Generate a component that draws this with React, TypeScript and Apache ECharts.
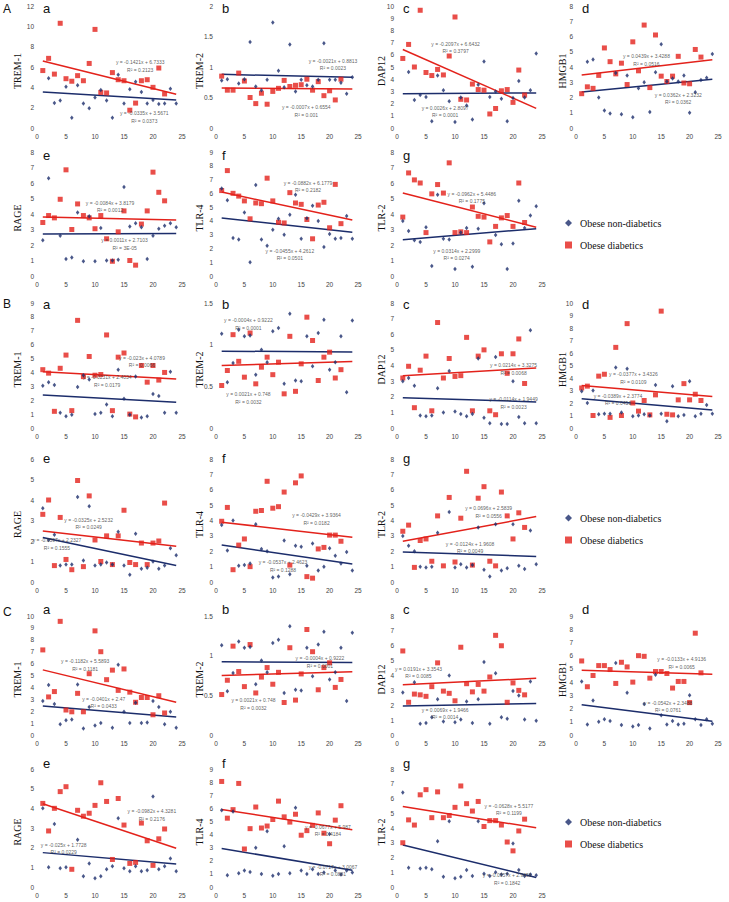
import React, { useEffect, useRef } from 'react';
import * as echarts from 'echarts';

// ---------- data (x = subject index 1..24 for blue, 1..22 for red) ----------
const A_a_blue = [null, 4.9, 2.45, 2.7, 4.05, 1.0, 4.2, 2.4, 1.95, 3.0, 3.75, 2.7, 1.0, 5.25, 2.4, 3.8, 4.55, 3.55, 2.4, 2.75, 2.35, 2.4, 3.85, 2.4];
const A_a_red = [5.65, 6.85, 5.3, 10.3, 4.85, 4.6, 5.15, 4.65, 6.35, 9.7, 3.5, 3.45, 5.45, 4.75, 4.65, 1.75, 2.45, 4.65, 4.75, 4.0, 5.9, 3.35];
const A_b_blue = [0.78, 0.8, null, 0.73, 0.8, 1.41, 0.68, 0.62, 0.79, 1.73, 0.94, 0.67, 1.37, 0.6, 0.79, 0.7, 0.68, 0.79, 1.39, 0.79, 0.79, 0.74, 0.56, 0.83];
const A_b_red = [0.85, 0.62, 0.62, 0.9, 0.77, 0.5, 0.4, 0.57, 0.39, 0.6, 0.65, 0.78, 0.68, 0.7, 0.71, 0.8, 0.62, 0.76, 0.53, 0.61, 0.46, 0.8];
const A_c_blue = [null, 4.6, 2.3, 2.7, 2.55, 0.55, 4.3, 3.1, 2.2, 0.5, 2.5, 1.85, 0.7, 3.55, 5.45, 2.55, 3.0, 2.4, 0.55, 2.45, 3.85, 2.5, 3.1, 6.1];
const A_c_red = [5.7, 6.85, 5.0, 9.65, 4.55, 4.3, 4.8, 4.35, 5.9, 9.1, 2.35, 2.3, 3.6, 3.15, 3.1, 1.15, 1.6, 3.05, 3.15, 2.1, 4.75, 2.7];
const A_d_blue = [null, 4.35, 4.5, 2.0, 1.15, 0.95, 3.6, 0.9, 3.45, 0.7, 2.6, 3.0, 1.05, 3.65, 5.5, 3.05, 3.25, 3.05, 3.45, 1.0, 2.35, 3.15, 3.3, 4.85];
const A_d_red = [2.25, 2.7, 2.6, 3.45, 5.25, 4.35, 3.55, 4.25, 2.85, 5.65, 3.75, 6.75, 2.65, 6.1, 3.4, 3.05, 3.4, 4.7, 2.95, 2.9, 5.15, 4.65];
const A_e_blue = [2.3, 6.3, null, 2.6, 1.1, 1.2, 4.1, 0.95, 3.85, 0.95, 3.1, 1.0, 1.0, 1.05, 5.75, 3.2, 3.4, 3.15, 1.1, 2.6, 3.05, 3.25, 3.4, 3.15];
const A_e_red = [3.45, 3.9, 3.75, 4.95, 6.85, 3.0, 4.65, 3.9, 3.75, 3.05, 3.9, 2.4, 0.95, 2.85, 4.2, 1.0, 0.7, 3.35, 4.2, 6.7, 5.4, 4.85];
const A_f_blue = [6.35, 5.5, 2.75, 2.65, 4.6, 1.0, 6.6, 2.65, 2.2, 3.35, 4.15, 3.0, 4.45, 5.9, 2.7, 4.2, 5.1, 4.0, 2.1, 3.05, 2.7, 2.75, 4.35, 2.7];
const A_f_red = [6.2, 7.65, 6.0, 5.8, 5.45, 4.15, 5.3, 5.25, 7.1, 5.45, 3.9, 3.85, 6.05, 5.3, 5.2, 4.1, 2.7, 5.15, 5.35, 3.5, 6.65, 3.8];
const A_g_blue = [3.55, 2.9, 2.3, 2.2, 3.15, 0.65, 5.25, 2.4, 2.35, 0.45, 2.8, 3.1, 0.6, 3.05, 4.7, null, 2.65, 2.05, 0.45, 2.1, 4.85, 3.1, 3.9, 4.5];
const A_g_red = [3.8, 6.65, 6.2, 6.0, 2.8, 5.3, 5.9, 5.35, 7.3, 2.8, 2.85, 2.8, 4.45, 3.85, 3.8, 2.2, 3.2, 3.75, 3.9, 3.2, 6.0, 3.45];

const B_a_blue = [3.05, 3.3, 3.1, 1.1, 0.85, 0.95, 2.95, 3.8, 3.5, 1.0, 1.1, 1.7, 0.85, 4.2, 2.1, 0.95, 3.7, 0.75, 0.85, 2.45, 2.3, 1.1, 4.05, 1.1];
const B_a_red = [4.2, 3.95, 1.2, 4.3, 5.25, 1.25, 7.75, 3.7, 5.15, 3.8, 3.85, 6.7, 1.25, 5.1, 5.4, 1.0, 0.8, 4.5, 3.3, 4.5, 3.45, 4.0];
const B_b_blue = [1.13, 0.55, 0.78, 1.18, 1.1, 1.11, 0.64, 0.94, 0.79, 1.16, 1.2, 0.53, 1.37, 0.57, 0.56, 1.1, 0.74, 1.14, 1.3, 0.7, 0.79, 1.1, 0.43, 1.29];
const B_b_red = [0.51, 0.69, 1.12, 0.8, 0.61, 1.14, 0.53, 0.73, 0.85, 0.64, 0.79, 0.41, 1.1, 0.44, 0.77, 1.33, 1.05, 0.57, 0.85, 0.91, 0.6, 0.7];
const B_c_blue = [3.0, 3.2, 2.7, 0.8, 0.75, 0.8, 2.55, 1.0, 3.65, 1.05, 0.9, 0.75, 0.9, 4.45, 0.65, 0.3, 4.55, 0.25, 0.25, 3.0, 0.7, 0.3, 6.25, 0.3];
const B_c_red = [3.2, 3.95, 1.3, 3.7, 4.6, 1.1, 6.75, 3.2, 4.45, 3.3, 3.35, 5.8, 1.1, 4.6, 5.0, 1.1, 0.85, 4.75, 3.5, 4.75, 5.7, 2.85];
const B_d_blue = [2.95, 2.0, 3.0, 1.1, 1.15, 1.15, 4.85, 1.25, 4.75, 0.95, 1.0, 1.1, 1.0, 3.45, 1.15, 0.55, 3.35, 0.95, 1.05, 3.75, 0.95, 1.15, 1.85, 1.15];
const B_d_red = [3.2, 3.35, 1.0, 4.15, 4.3, 0.85, 6.45, 1.0, 8.35, 2.0, 1.35, 2.2, 1.05, 2.65, 9.35, 1.1, 1.05, 2.25, 3.55, 2.25, 2.7, 2.2];
const B_e_blue = [3.6, 2.05, 2.3, 0.8, 0.85, 0.85, 4.15, 1.05, 3.7, 0.8, 0.85, 0.95, 0.85, 2.45, 0.8, 0.35, 2.35, 0.65, 0.7, 1.0, 0.65, 0.8, 1.65, 1.3];
const B_e_red = [3.3, 4.0, 0.8, 3.15, 1.1, 0.6, 4.95, 0.75, 4.2, 2.05, 1.0, 2.25, 0.85, 2.25, 3.5, 0.95, 0.85, 1.9, 0.85, 1.9, 2.0, 3.85];
const B_f_blue = [3.7, 2.05, 4.0, 1.05, 1.1, 1.2, 3.75, 2.15, 2.0, 0.3, 0.35, 2.7, 0.5, 2.35, 2.3, 1.05, 2.5, 0.75, 1.0, 2.2, 1.7, 1.2, 1.95, 0.75];
const B_f_red = [3.95, 4.85, 0.8, 2.4, 2.8, 1.0, 4.6, 4.65, 6.55, 4.8, 4.9, 5.85, 1.1, 6.45, 6.9, 0.35, 0.25, 2.15, 2.25, 3.05, 3.05, 2.65];
const B_g_blue = [3.0, 2.35, 2.0, 1.0, 0.95, 1.0, 3.2, null, 4.55, 0.95, 1.15, 0.95, 1.1, 3.55, 0.8, 0.35, 3.75, 0.75, 0.9, 3.75, 1.05, 0.85, 3.35, 1.15];
const B_g_red = [3.3, 3.7, 0.95, 2.7, 2.8, 1.35, 4.3, 1.05, 5.5, 1.3, 4.15, 7.2, 1.1, 5.45, 6.2, 1.35, 1.05, 5.85, 4.3, 2.8, 4.5, 3.55];

const C_a_blue = [2.85, 4.2, 2.6, 0.9, 1.25, 1.3, 4.25, 0.55, 2.35, 0.8, 1.0, null, 0.6, 5.9, 1.95, 1.0, 2.7, 1.0, 1.05, 2.85, 2.35, 0.9, 1.95, 0.6];
const C_a_red = [7.15, 3.2, 3.65, 9.55, 2.1, 1.95, 3.5, 1.95, 5.15, 8.75, 7.0, 4.65, 5.45, 3.75, 5.55, 3.6, 2.75, 3.15, 3.15, 1.7, 3.3, 1.85];
const C_b_blue = [1.13, 0.55, 0.78, 1.18, 1.1, 1.11, 0.64, 0.94, 0.79, 1.16, 1.2, 0.53, 1.37, 0.57, 0.56, 1.1, 0.74, 1.14, 1.3, 0.7, 0.79, 1.1, 0.43, 1.29];
const C_b_red = [0.51, 0.69, 1.12, 0.8, 0.61, 1.14, 0.53, 0.73, 0.85, 0.64, 0.79, 0.41, 1.1, 0.44, 0.77, 1.33, 1.05, 0.57, 0.85, 0.91, 0.6, 0.7];
const C_c_blue = [2.85, null, 3.55, 0.75, 0.8, 1.2, 2.4, 0.9, 4.0, 0.85, 1.05, 2.25, 0.8, 2.4, 4.9, 0.75, 4.15, 1.2, 1.1, 2.95, 2.65, 1.05, 3.6, 0.95];
const C_c_red = [5.65, 2.2, 2.75, 2.7, 2.6, 3.25, 4.85, 2.95, 2.8, 2.3, 5.9, 3.45, 2.9, 3.4, 2.95, 3.9, 6.7, 6.0, 2.2, 3.5, 3.0, 2.7];
const C_d_blue = [4.05, 0.8, 2.6, 1.0, 1.2, 1.05, 5.45, 0.75, 3.2, 0.65, 0.75, 2.35, 0.5, 4.55, 1.5, 0.8, 1.05, 0.8, 0.85, 3.0, 1.2, 0.75, 1.2, 0.85];
const C_d_red = [5.6, 3.65, 4.5, 5.25, 5.25, 4.95, 3.9, 5.5, 5.15, 4.0, 6.0, 5.95, 4.3, 4.8, 4.8, 4.65, 3.55, 4.05, 4.05, 2.45, 7.7, 4.7];
const C_e_blue = [4.0, 1.0, 3.2, 0.95, 1.0, null, 2.4, 0.55, 1.2, 0.45, 0.55, 0.9, 1.05, 3.5, 0.95, 0.8, 1.05, 0.8, 0.85, 4.6, 0.9, 1.05, 1.45, 0.8];
const C_e_red = [4.25, 2.85, 4.0, 4.85, 5.1, 0.9, 3.9, 3.6, 3.75, 4.15, 5.3, 4.35, 1.4, 4.5, 3.15, 1.2, 1.25, 3.25, 2.35, 1.1, 2.45, 2.95];
const C_f_blue = [5.85, 0.9, 5.75, 1.05, 1.25, 1.15, 3.0, 1.0, 4.25, 0.85, 1.0, 3.1, 1.05, 6.05, 1.25, 1.0, 1.35, 1.0, 1.1, 4.05, 1.25, 0.95, 1.25, 1.1];
const C_f_red = [8.05, 5.25, 5.9, 7.9, 2.9, 4.45, 6.1, 4.5, 4.65, 5.15, 6.55, 5.35, 4.95, 5.55, 3.95, 4.3, 4.7, 5.65, 4.1, 3.3, 5.1, 6.2];
const C_g_blue = [6.4, 1.3, null, 1.25, 1.3, 1.2, 3.1, 0.7, 4.45, 0.6, 0.7, 1.15, 0.75, 4.45, 0.9, 0.75, 1.0, 0.85, 0.9, 2.95, 1.15, 0.75, 0.85, 0.8];
const C_g_red = [3.0, 4.55, 4.2, 6.25, 6.6, 4.7, 6.45, 4.7, 4.85, 5.4, 6.85, 5.65, 5.15, 5.8, 4.1, 4.5, 4.5, 4.2, 3.05, 2.45, 3.8, 4.6];

const blueSets = [A_a_blue, A_b_blue, A_c_blue, A_d_blue, A_e_blue, A_f_blue, A_g_blue,
  B_a_blue, B_b_blue, B_c_blue, B_d_blue, B_e_blue, B_f_blue, B_g_blue,
  C_a_blue, C_b_blue, C_c_blue, C_d_blue, C_e_blue, C_f_blue, C_g_blue];
const redSets = [A_a_red, A_b_red, A_c_red, A_d_red, A_e_red, A_f_red, A_g_red,
  B_a_red, B_b_red, B_c_red, B_d_red, B_e_red, B_f_red, B_g_red,
  C_a_red, C_b_red, C_c_red, C_d_red, C_e_red, C_f_red, C_g_red];

const markers = ['TREM-1', 'TREM-2', 'DAP12', 'HMGB1', 'RAGE', 'TLR-4', 'TLR-2'];
const panelLetters = ['a', 'b', 'c', 'd', 'e', 'f', 'g'];
const sectionLetters = ['A', 'B', 'C'];
const yMax = [12, 2, 10, 8, 8, 9, 8, 9, 1.5, 8, 10, 6, 8, 8, 10, 1.5, 8, 9, 6, 9, 8];
const yStep = [2, 0.5, 1, 1, 1, 1, 1, 1, 0.5, 1, 1, 1, 1, 1, 1, 0.5, 1, 1, 1, 1, 1];

// fitted trend lines (from the equations shown)
const redSlope = [-0.1421, -0.0007, -0.2097, 0.0439, -0.0084, -0.0882, -0.0962, -0.023, 0.0021, 0.0214, -0.0377, -0.0325, -0.0429, 0.0696, -0.1182, 0.0021, 0.0191, -0.0133, -0.0982, -0.0677, -0.0628];
const redIntercept = [6.7333, 0.6554, 6.6432, 3.4288, 3.8179, 6.1779, 5.4486, 4.0789, 0.748, 3.3275, 3.4326, 2.5232, 3.9364, 2.5839, 5.5893, 0.748, 3.3543, 4.9136, 4.3281, 5.987, 5.5177];
const redR2 = ['0.2123', '0.001', '0.3797', '0.0516', '0.0012', '0.2182', '0.1775', '0.0066', '0.0032', '0.0068', '0.0109', '0.0249', '0.0182', '0.0556', '0.1181', '0.0032', '0.0085', '0.0065', '0.2176', '0.4184', '0.1199'];
const blueSlope = [-0.0335, -0.0021, 0.0026, 0.0362, 0.0011, -0.0455, 0.0314, -0.0231, -0.0004, -0.0114, -0.0389, -0.0597, -0.0537, -0.0124, -0.0401, -0.0004, 0.0069, -0.0542, -0.025, -0.0717, -0.0957];
const blueIntercept = [3.5671, 0.8813, 2.8097, 2.3232, 2.7103, 4.2612, 2.2999, 2.4034, 0.9222, 1.9449, 2.3774, 2.2327, 2.4623, 1.9608, 2.47, 0.9222, 1.9466, 2.3488, 1.7728, 3.0067, 2.9458];
const blueR2 = ['0.0373', '0.0023', '0.0001', '0.0362', '3E-05', '0.0501', '0.0274', '0.0179', '0.0001', '0.0023', '0.0451', '0.1555', '0.1288', '0.0049', '0.0433', '0.0001', '0.0014', '0.0761', '0.0229', '0.0881', '0.1842'];

// ---------- layout ----------
const redEqPos = [[17.8, 6.1], [15.9, 0.28], [10.1, 6.6], [12.4, 4.45], [12.6, 4.5], [16.2, 6.5], [12.9, 5.05],
  [18.1, 4.8], [5.7, 0.36], [20.1, 3.78], [10.1, 4.0], [8.9, 2.85], [17.7, 4.1], [15.8, 4.55],
  [8.3, 5.9], [6.6, 0.39], [3.7, 4.2], [18.6, 5.45], [19.8, 3.65], [19.7, 4.3], [19.3, 5.25]];
const blueEqPos = [[18.5, 1.1], [20.6, 1.04], [8.3, 1.35], [18, 1.95], [15.1, 2.05], [13, 1.55], [10.3, 1.4],
  [12.1, 3.4], [5.7, 1.25], [20.1, 1.6], [7.4, 2.3], [3.45, 1.85], [11.8, 1.05], [12.6, 2.25],
  [11.5, 2.75], [18.3, 0.92], [8.3, 1.45], [16.2, 2.15], [4.6, 1.95], [20.6, 1.25], [19, 0.55]];
const colLeft = [37, 216, 397, 576];
const colWidth = [145, 142, 145, 142];
const colNameOffset = [20, 17, 16, 14];
const rowTop = [6, 152, 303, 459, 616, 769];
const rowHeight = [122, 124, 125, 123, 119, 118];
const letterBase = [12, 159, 308, 462, 613, 767];
const sectionY = [8.5, 303.5, 611.5];
const legendTop = [213, 508, 812];

const BLUE = '#1c2d6b';
const RED = '#e3221b';
const SANS = '"Liberation Sans", Arial, sans-serif';
const SERIF = '"Liberation Serif", "Times New Roman", serif';

const fmtEq = (s: number, b: number) => `y = ${s}x + ${b}`;

function buildOption() {
  const grid: any[] = [];
  const xAxis: any[] = [];
  const yAxis: any[] = [];
  const series: any[] = [];
  const graphic: any[] = [];
  for (let p = 0; p < 21; p++) {
    const s = Math.floor(p / 7);
    const k = p % 7;
    const row = s * 2 + (k < 4 ? 0 : 1);
    const col = k < 4 ? k : k - 4;
    grid.push({ left: colLeft[col], top: rowTop[row], width: colWidth[col], height: rowHeight[row] });
    xAxis.push({
      gridIndex: p, type: 'value', min: 0, max: 25, interval: 5,
      axisLine: { show: false }, axisTick: { show: false }, splitLine: { show: false },
      axisLabel: { fontSize: 6.5, color: '#444', margin: 5, fontFamily: SANS },
    });
    yAxis.push({
      gridIndex: p, type: 'value', min: 0, max: yMax[p], interval: yStep[p],
      axisLine: { show: false }, axisTick: { show: false }, splitLine: { show: false },
      axisLabel: { fontSize: 6.5, color: '#444', margin: 3, fontFamily: SANS },
    });
    const blue = blueSets[p].map((v, i) => [i + 1, v]).filter((d) => d[1] != null);
    const red = redSets[p].map((v, i) => [i + 1, v]).filter((d) => d[1] != null);
    series.push({
      type: 'line', name: 'trend-blue', xAxisIndex: p, yAxisIndex: p, symbol: 'none', silent: true,
      data: [[1, blueSlope[p] * 1 + blueIntercept[p]], [24, blueSlope[p] * 24 + blueIntercept[p]]],
      lineStyle: { color: BLUE, width: 1.5 }, z: 2,
    });
    series.push({
      type: 'line', name: 'trend-red', xAxisIndex: p, yAxisIndex: p, symbol: 'none', silent: true,
      data: [[1, redSlope[p] * 1 + redIntercept[p]], [24, redSlope[p] * 24 + redIntercept[p]]],
      lineStyle: { color: RED, width: 1.5 }, z: 2,
    });
    series.push({
      type: 'scatter', name: 'Obese non-diabetics', xAxisIndex: p, yAxisIndex: p,
      symbol: 'diamond', symbolSize: [3.5, 4.5], itemStyle: { color: BLUE }, data: blue, z: 4,
    });
    series.push({
      type: 'scatter', name: 'Obese diabetics', xAxisIndex: p, yAxisIndex: p,
      symbol: 'rect', symbolSize: 5, itemStyle: { color: RED }, data: red, z: 3,
    });
    series.push({
      type: 'scatter', name: 'equations', xAxisIndex: p, yAxisIndex: p, symbolSize: 0, silent: true,
      data: [
        { name: fmtEq(redSlope[p], redIntercept[p]) + '\nR² = ' + redR2[p], value: redEqPos[p] },
        { name: fmtEq(blueSlope[p], blueIntercept[p]) + '\nR² = ' + blueR2[p], value: blueEqPos[p] },
      ],
      label: {
        show: true, position: 'inside', formatter: '{b}', fontSize: 5, lineHeight: 7.5,
        color: '#333', fontFamily: SANS, align: 'center',
      },
      z: 5,
    });
    graphic.push({
      type: 'text', x: colLeft[col] + 6, y: letterBase[row] + 3,
      style: { text: panelLetters[k], font: `13px ${SANS}`, fill: '#111', verticalAlign: 'bottom' },
    });
    graphic.push({
      type: 'text', x: colLeft[col] - colNameOffset[col], y: rowTop[row] + rowHeight[row] / 2 + 4,
      rotation: Math.PI / 2,
      style: { text: markers[k], font: `10px ${SERIF}`, fill: '#111', align: 'center', verticalAlign: 'middle' },
    });
  }
  for (let s = 0; s < 3; s++) {
    graphic.push({
      type: 'text', x: 3, y: sectionY[s],
      style: { text: sectionLetters[s], font: `12px ${SANS}`, fill: '#111', verticalAlign: 'middle' },
    });
  }
  const legend = legendTop.map((t) => ({
    orient: 'vertical', left: 560, top: t, itemWidth: 7, itemHeight: 7, itemGap: 12,
    selectedMode: false,
    data: [
      { name: 'Obese non-diabetics', icon: 'diamond', itemStyle: { color: BLUE } },
      { name: 'Obese diabetics', icon: 'rect', itemStyle: { color: RED } },
    ],
    textStyle: { fontFamily: SERIF, fontSize: 10, color: '#111', padding: [0, 0, 0, 3] },
  }));
  return { animation: false, backgroundColor: '#fff', grid, xAxis, yAxis, series, graphic, legend };
}

export default function App() {
  const ref = useRef<HTMLDivElement>(null);
  useEffect(() => {
    if (!ref.current) return;
    const chart = echarts.init(ref.current, undefined, { renderer: 'svg' });
    chart.setOption(buildOption() as any);
    return () => chart.dispose();
  }, []);
  return (
    <div
      ref={ref}
      style={{ position: 'absolute', left: 0, top: 0, width: 729, height: 902, background: '#fff' }}
    />
  );
}
